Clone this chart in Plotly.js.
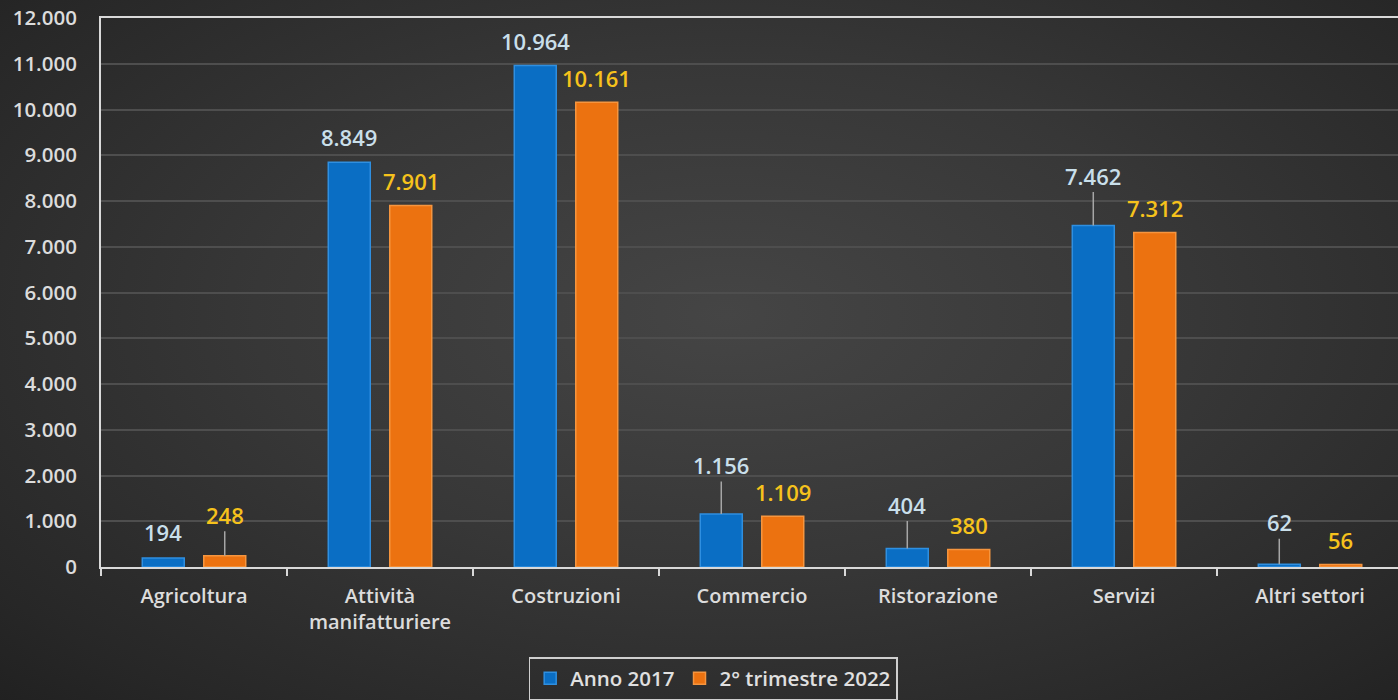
<!DOCTYPE html>
<html>
<head>
<meta charset="utf-8">
<script src="https://cdn.plot.ly/plotly-3.0.1.min.js"></script>
<style>
html,body{margin:0;padding:0;width:1398px;height:700px;overflow:hidden;
background:radial-gradient(ellipse 75% 80% at 52% 45%, #454545 0%, #373737 45%, #272727 85%, #202020 100%);}
#chart{width:1398px;height:700px;}
</style>
</head>
<body>
<div id="chart"></div>
<script>
const categories = ["Agricoltura", "Attività<br>manifatturiere", "Costruzioni", "Commercio", "Ristorazione", "Servizi", "Altri settori"];
const seriesNames = ["Anno 2017", "2° trimestre 2022"];
const anno2017 = [194, 8849, 10964, 1156, 404, 7462, 62];
const trim2022 = [248, 7901, 10161, 1109, 380, 7312, 56];
const yTicks = [0, 1000, 2000, 3000, 4000, 5000, 6000, 7000, 8000, 9000, 10000, 11000, 12000];

// label layout (pixel offsets above bar top, and whether a leader line is drawn)
const labelOffset2017 = [26, 25, 24, 49, 44, 50, 42];
const leader2017 = [false, false, false, true, true, true, true];
const labelOffset2022 = [41, 25, 24, 24, 25, 24, 24];
const leader2022 = [true, false, false, false, false, false, false];

const FONT = "'Open Sans', 'Noto Sans', sans-serif";
const bargap = 0.339, bargroupgap = 0.317;
const slot = (1 - bargap) / 2;

const traces = [
  {type: "bar", name: seriesNames[0], x: categories, y: anno2017,
   marker: {color: "#0a6ec4", line: {color: "#2f8fe0", width: 1.5}}, hoverinfo: "x+y"},
  {type: "bar", name: seriesNames[1], x: categories, y: trim2022,
   marker: {color: "#ec7210", line: {color: "#f5953f", width: 1.5}}, hoverinfo: "x+y"}
];

function fmt(v){ return v.toString().replace(/\B(?=(\d{3})+(?!\d))/g, "."); }

const annotations = [];
function addLabels(vals, offs, leaders, shift, color){
  vals.forEach((v, i) => {
    const a = {x: i + shift, y: v, xref: "x", yref: "y", text: fmt(v),
      font: {family: FONT, size: 22, color: color, weight: 600}};
    if (leaders[i]) {
      Object.assign(a, {showarrow: true, ax: 0, ay: -offs[i], arrowhead: 0,
        arrowwidth: 1.5, arrowcolor: "#a6a6a6", standoff: 0, startstandoff: 0});
    } else {
      Object.assign(a, {showarrow: false, yshift: offs[i]});
    }
    annotations.push(a);
  });
}
addLabels(anno2017, labelOffset2017, leader2017, -slot / 2, "#c9dfea");
addLabels(trim2022, labelOffset2022, leader2022, slot / 2, "#f6c21c");

const layout = {
  width: 1398, height: 700,
  margin: {l: 101, r: 0, t: 18, b: 133},
  paper_bgcolor: "rgba(0,0,0,0)", plot_bgcolor: "rgba(0,0,0,0)",
  separators: ",.",
  barmode: "group", bargap: bargap, bargroupgap: bargroupgap,
  showlegend: true,
  legend: {orientation: "h", x: 0.472, xanchor: "center", y: -0.164, yanchor: "top",
    bgcolor: "rgba(0,0,0,0)", bordercolor: "#cfcfcf", borderwidth: 1.5,
    font: {family: FONT, size: 20.5, color: "#e0e0e0", weight: 600},
    itemwidth: 30, traceorder: "normal"},
  xaxis: {type: "category", range: [-0.5, 6.473], showline: true, mirror: true,
    linecolor: "#d9d9d9", linewidth: 2, ticks: "outside", tickson: "boundaries",
    ticklen: 7, tickcolor: "#d9d9d9", tickwidth: 1.5, showgrid: false,
    ticklabelstandoff: 10,
    tickfont: {family: FONT, size: 20, color: "#dcdcdc", weight: 600}, fixedrange: true},
  yaxis: {range: [0, 12000], tickvals: yTicks, tickformat: ",d", showline: true,
    linecolor: "#d9d9d9", linewidth: 2, gridcolor: "#4e4e4e", gridwidth: 2,
    ticks: "outside", ticklen: 18, tickcolor: "rgba(0,0,0,0)", zeroline: false,
    tickfont: {family: FONT, size: 20.5, color: "#dcdcdc", weight: 600}, fixedrange: true},
  annotations: annotations
};

Plotly.newPlot("chart", traces, layout, {displayModeBar: false, staticPlot: true});
</script>
</body>
</html>
